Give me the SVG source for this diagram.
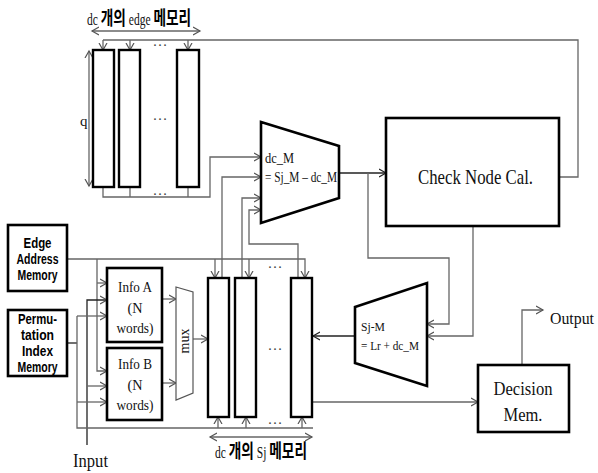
<svg xmlns="http://www.w3.org/2000/svg" width="598" height="473" viewBox="0 0 598 473">
<defs>
<marker id="arr" markerUnits="userSpaceOnUse" markerWidth="10" markerHeight="10" refX="7" refY="4" orient="auto-start-reverse" viewBox="0 0 10 8">
<path d="M0,0 L7,4 L0,8" fill="none" stroke="#555" stroke-width="1.2"/>
</marker>
<marker id="arrk" markerUnits="userSpaceOnUse" markerWidth="10" markerHeight="10" refX="7" refY="4" orient="auto" viewBox="0 0 10 8">
<path d="M0,0 L7,4 L0,8" fill="none" stroke="#222" stroke-width="1.2"/>
</marker>
</defs>
<style>
.box{fill:#fff;stroke:#000;stroke-width:2.6}
.mem{fill:#fff;stroke:#000;stroke-width:2.4}
.w{fill:none;stroke:#666;stroke-width:1.3}
.wk{fill:none;stroke:#222;stroke-width:1.3}
.a{marker-end:url(#arr)}
.ak{marker-end:url(#arrk)}
.da{marker-start:url(#arr);marker-end:url(#arr)}
.s{font-family:"Liberation Serif","Times New Roman",serif;fill:#111}
.b{font-family:"Liberation Sans",Arial,sans-serif;font-weight:bold;fill:#000}
.k{font-family:"Noto Sans CJK KR","Liberation Sans",sans-serif;font-weight:bold;fill:#000}
.dots{font-family:"Liberation Serif",serif;font-size:15px;fill:#444}
</style>

<g id="connectors">
<path class="w" d="M559,177 H578 V40 H103"/>
<path class="w a" d="M103,40 V50"/>
<path class="w a" d="M130,40 V50"/>
<path class="w a" d="M188,40 V50"/>
<path class="w a" d="M103,187 V197 H210 V157 H261"/>
<path class="w" d="M130,187 V197"/>
<path class="w" d="M188,187 V197"/>
<path class="w da" d="M89,51 V186"/>
<path class="w da" d="M92,31 H200"/>
<path class="wk ak" d="M339,173 H386"/>
<path class="w a" d="M368,173 V258 H449 V324 H427"/>
<path class="w a" d="M473,226 V336 H427"/>
<path class="wk ak" d="M355,336 H313"/>
<path class="w a" d="M313,402 H478"/>
<path class="w a" d="M522,365 V310 H543"/>
<path class="w a" d="M222,278 V177 H261"/>
<path class="w a" d="M242,278 V198 H261"/>
<path class="w a" d="M298,278 V244 H249 V210 H261"/>
<path class="w a" d="M67,259 H305 V278"/>
<path class="w a" d="M215,259 V278"/>
<path class="w a" d="M249,259 V278"/>
<path class="w a" d="M97,259 V371 H107"/>
<path class="w a" d="M97,283 H107"/>
<path class="wk a" d="M87,445 V300 H107"/>
<path class="w a" d="M87,386 H107"/>
<path class="wk" d="M67,343 H77"/>
<path class="w" d="M77,316 V428 H313"/>
<path class="w a" d="M77,316 H107"/>
<path class="w a" d="M77,402 H107"/>
<path class="w a" d="M218,428 V417"/>
<path class="w a" d="M246,428 V417"/>
<path class="w a" d="M302,428 V417"/>
<path class="w a" d="M162,299 H176"/>
<path class="w a" d="M162,383 H176"/>
<path class="w a" d="M193,339 H208"/>
<path class="w da" d="M210,437 H312"/>
</g>

<g id="edge-memories">
<rect class="mem" x="93" y="50" width="21" height="137"/>
<rect class="mem" x="119" y="50" width="21" height="137"/>
<rect class="mem" x="177" y="50" width="22" height="137"/>
<text class="dots" x="160" y="46" text-anchor="middle">…</text>
<text class="dots" x="160" y="120" text-anchor="middle">…</text>
<text class="dots" x="160" y="195" text-anchor="middle">…</text>
<text class="s" x="80" y="126" font-size="15">q</text>
<text transform="translate(87,25) scale(0.72,1)"><tspan class="s" font-size="16">dc </tspan><tspan class="k" font-size="19">개의</tspan><tspan class="s" font-size="16"> edge </tspan><tspan class="k" font-size="19">메모리</tspan></text>
</g>

<g id="sj-memories">
<rect class="mem" x="208" y="278" width="21" height="139"/>
<rect class="mem" x="235" y="278" width="21" height="139"/>
<rect class="mem" x="291" y="278" width="21" height="139"/>
<text class="dots" x="275" y="268" text-anchor="middle">…</text>
<text class="dots" x="275" y="350" text-anchor="middle">…</text>
<text class="dots" x="275" y="424" text-anchor="middle">…</text>
<text transform="translate(215,458) scale(0.72,1)"><tspan class="s" font-size="16">dc </tspan><tspan class="k" font-size="19">개의</tspan><tspan class="s" font-size="16"> Sj </tspan><tspan class="k" font-size="19">메모리</tspan></text>
</g>

<g id="subtractor">
<polygon class="box" points="261,122 339,146 339,198 261,223"/>
<text class="s" x="265" y="163" font-size="14" textLength="29" lengthAdjust="spacingAndGlyphs">dc_M</text>
<text class="s" x="265" y="182" font-size="14" textLength="72" lengthAdjust="spacingAndGlyphs">= Sj_M – dc_M</text>
</g>

<g id="check-node">
<rect class="box" x="386" y="118" width="173" height="108"/>
<text class="s" x="418" y="184" font-size="21" textLength="115" lengthAdjust="spacingAndGlyphs">Check Node Cal.</text>
</g>

<g id="adder">
<polygon class="box" points="355,307 427,283 427,386 355,363"/>
<text class="s" x="361" y="331" font-size="13" textLength="24" lengthAdjust="spacingAndGlyphs">Sj-M</text>
<text class="s" x="361" y="350" font-size="13" textLength="58" lengthAdjust="spacingAndGlyphs">= Lr + dc_M</text>
</g>

<g id="decision">
<rect class="box" x="478" y="365" width="91" height="67"/>
<text class="s" x="523" y="395" font-size="19" text-anchor="middle" textLength="59" lengthAdjust="spacingAndGlyphs">Decision</text>
<text class="s" x="523" y="421" font-size="19" text-anchor="middle" textLength="39" lengthAdjust="spacingAndGlyphs">Mem.</text>
</g>

<g id="output">
<text class="s" x="550" y="324" font-size="17" textLength="44" lengthAdjust="spacingAndGlyphs">Output</text>
</g>

<g id="input">
<text class="s" x="73" y="467" font-size="18" textLength="35" lengthAdjust="spacingAndGlyphs">Input</text>
</g>

<g id="edge-address-memory">
<rect class="box" x="8" y="225" width="59" height="66"/>
<text class="b" x="37.5" y="248" font-size="15" text-anchor="middle" textLength="28" lengthAdjust="spacingAndGlyphs">Edge</text>
<text class="b" x="37.5" y="264" font-size="15" text-anchor="middle" textLength="42" lengthAdjust="spacingAndGlyphs">Address</text>
<text class="b" x="37.5" y="280" font-size="15" text-anchor="middle" textLength="40" lengthAdjust="spacingAndGlyphs">Memory</text>
</g>

<g id="permutation-index-memory">
<rect class="box" x="8" y="310" width="59" height="66"/>
<text class="b" x="37.5" y="324" font-size="15" text-anchor="middle" textLength="39" lengthAdjust="spacingAndGlyphs">Permu-</text>
<text class="b" x="37.5" y="340" font-size="15" text-anchor="middle" textLength="33" lengthAdjust="spacingAndGlyphs">tation</text>
<text class="b" x="37.5" y="356" font-size="15" text-anchor="middle" textLength="31" lengthAdjust="spacingAndGlyphs">Index</text>
<text class="b" x="37.5" y="372" font-size="15" text-anchor="middle" textLength="40" lengthAdjust="spacingAndGlyphs">Memory</text>
</g>

<g id="info-a">
<rect class="box" x="107" y="268" width="55" height="74"/>
<text class="s" x="135" y="292" font-size="15" text-anchor="middle" textLength="34" lengthAdjust="spacingAndGlyphs">Info A</text>
<text class="s" x="135" y="313" font-size="15" text-anchor="middle" textLength="15" lengthAdjust="spacingAndGlyphs">(N</text>
<text class="s" x="135" y="333" font-size="15" text-anchor="middle" textLength="37" lengthAdjust="spacingAndGlyphs">words)</text>
</g>

<g id="info-b">
<rect class="box" x="107" y="348" width="55" height="72"/>
<text class="s" x="135" y="369" font-size="15" text-anchor="middle" textLength="34" lengthAdjust="spacingAndGlyphs">Info B</text>
<text class="s" x="135" y="390" font-size="15" text-anchor="middle" textLength="15" lengthAdjust="spacingAndGlyphs">(N</text>
<text class="s" x="135" y="410" font-size="15" text-anchor="middle" textLength="37" lengthAdjust="spacingAndGlyphs">words)</text>
</g>

<g id="mux">
<polygon points="176,287 193,292 193,393 176,400" fill="#fff" stroke="#555" stroke-width="1.2"/>
<text class="s" font-size="14" text-anchor="middle" transform="translate(189,341) rotate(-90)">mux</text>
</g>
</svg>
